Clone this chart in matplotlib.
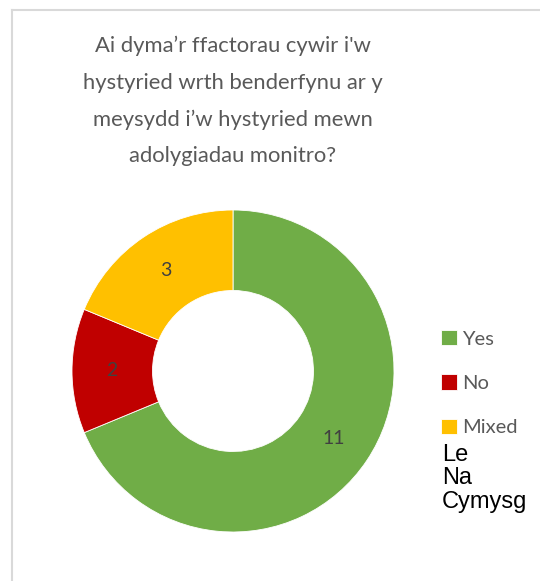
import numpy as np
import matplotlib.pyplot as plt
from matplotlib.lines import Line2D

labels = ["Yes", "No", "Mixed"]
welsh_labels = ["Le", "Na", "Cymysg"]
values = [11, 2, 3]
colours = ["#70AD47", "#C00000", "#FFC000"]
title = "Ai dyma\u2019r ffactorau cywir i'w\nhystyried wrth benderfynu ar y\nmeysydd i\u2019w hystyried mewn\nadolygiadau monitro?"

W, H = 540, 581
fig = plt.figure(figsize=(W / 100, H / 100), dpi=100)

# chart border (only the left and top edges are visible)
fig.add_artist(Line2D([12 / W, 12 / W], [0, 1 - 10 / H], color="#D9D9D9", lw=1.5))
fig.add_artist(Line2D([12 / W, 1], [1 - 10 / H, 1 - 10 / H], color="#D9D9D9", lw=1.5))

fig.text(233 / W, 1 - 36 / H, title, ha="center", va="top", fontsize=15.8,
         color="#595959", family="Lato", linespacing=2.02)

# donut
cx, cy, r = 233, 371, 161
ax = fig.add_axes([(cx - r) / W, (H - cy - r) / H, 2 * r / W, 2 * r / H])
wedges, _ = ax.pie(values, colors=colours, startangle=90, counterclock=False,
                   radius=1, wedgeprops=dict(width=0.5, edgecolor="white", linewidth=0.6))
ax.set_xlim(-1, 1)
ax.set_ylim(-1, 1)
ax.set_aspect("equal")
ax.axis("off")

for w, v in zip(wedges, values):
    mid = np.deg2rad((w.theta1 + w.theta2) / 2)
    ax.text(0.75 * np.cos(mid), 0.75 * np.sin(mid), str(v), ha="center", va="center",
            fontsize=14, color="#404040", family="Lato")

leg = fig.legend(wedges, labels, loc="upper left", bbox_to_anchor=(431 / W, 1 - 320 / H),
                 frameon=False, handlelength=0.8, handleheight=0.8, handletextpad=0.25,
                 labelspacing=1.32, borderpad=0, prop={"family": "Lato", "size": 14.5})
for t in leg.get_texts():
    t.set_color("#595959")

fig.text(442 / W, 1 - 444 / H, "\n".join(welsh_labels), ha="left", va="top",
         fontsize=17, color="black", family="Liberation Sans", linespacing=1.08)

fig.savefig("out.png", dpi=100)
